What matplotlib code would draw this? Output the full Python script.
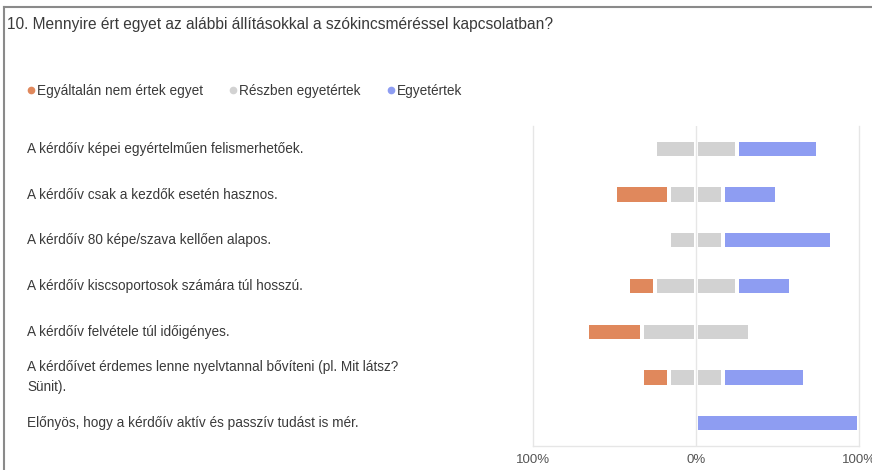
import matplotlib
matplotlib.use("Agg")
import matplotlib.pyplot as plt
import matplotlib.transforms as mtransforms
from matplotlib.lines import Line2D
import numpy as np

plt.rcParams['font.family'] = ['Liberation Sans', 'DejaVu Sans']

title = "10. Mennyire ért egyet az alábbi állításokkal a szókincsméréssel kapcsolatban?"
statements = [
    "A kérdőív képei egyértelműen felismerhetőek.",
    "A kérdőív csak a kezdők esetén hasznos.",
    "A kérdőív 80 képe/szava kellően alapos.",
    "A kérdőív kiscsoportosok számára túl hosszú.",
    "A kérdőív felvétele túl időigényes.",
    "A kérdőívet érdemes lenne nyelvtannal bővíteni (pl. Mit látsz?\nSünit).",
    "Előnyös, hogy a kérdőív aktív és passzív tudást is mér.",
]
series_names = ["Egyáltalán nem értek egyet", "Részben egyetértek", "Egyetértek"]
disagree = [0, 33.3, 0, 16.7, 33.3, 16.7, 0]
partly = [50, 33.3, 33.3, 50, 66.7, 33.3, 0]
agree = [50, 33.3, 66.7, 33.3, 0, 50, 100]
tick_vals = [-100, 0, 100]
tick_labels = ["100%", "0%", "100%"]

c_orange = "#E0885C"
c_grey = "#D2D2D2"
c_blue = "#8E9DF2"
text_col = "#3a3a3a"

W, H = 872, 470
fig = plt.figure(figsize=(W / 100, H / 100), dpi=100)
ax = fig.add_axes([533 / W, 24 / H, 326 / W, 320 / H])

gap = 1.3  # half-gap between segments, in percent units
bh = 0.31
y = np.arange(len(statements))
disagree = np.array(disagree)
partly = np.array(partly)
agree = np.array(agree)


def seg(start, width, color):
    m = width > 0
    ax.barh(y[m], (width - 2 * gap)[m], left=(start + gap)[m], height=bh,
            color=color, linewidth=0, zorder=3)


half = partly / 2
seg(-half - disagree, disagree, c_orange)
seg(-half, half, c_grey)
seg(np.zeros_like(half), half, c_grey)
seg(half, agree, c_blue)

ax.set_xlim(-100, 100)
ax.set_ylim(len(statements) - 0.5, -0.5)
ax.axvline(0, color="#e6e6e6", lw=1, zorder=1)
ax.spines["top"].set_visible(False)
for s in ["left", "right", "bottom"]:
    ax.spines[s].set_color("#e6e6e6")
    ax.spines[s].set_linewidth(1)
ax.set_yticks([])
ax.set_xticks(tick_vals)
ax.set_xticklabels(tick_labels)
ax.tick_params(axis="x", length=0, pad=6, labelsize=9.5, labelcolor="#555555")

trans = mtransforms.blended_transform_factory(fig.transFigure, ax.transData)
for yi, lab in zip(y, statements):
    ax.text(27 / W, yi, lab, transform=trans, ha="left", va="center",
            fontsize=9.8, color=text_col, linespacing=1.55, clip_on=False)

fig.text(7 / W, 1 - 25 / H, title, ha="left", va="center", fontsize=11.2, color=text_col)

handles = [Line2D([], [], marker="o", ls="", color=c, markersize=4.5)
           for c in (c_orange, c_grey, c_blue)]
fig.legend(handles, series_names, loc="center left", bbox_to_anchor=(27.6 / W, 1 - 91 / H),
           ncol=3, frameon=False, fontsize=9.8, handlelength=0.5, handletextpad=0.2,
           columnspacing=1.95, borderpad=0, borderaxespad=0, labelcolor=text_col)

# outer frame of the screenshot
fig.add_artist(Line2D([4 / W, 1], [1 - 7 / H, 1 - 7 / H], transform=fig.transFigure,
                      color="#8a8a8a", lw=1.5))
fig.add_artist(Line2D([4 / W, 4 / W], [0, 1 - 7 / H], transform=fig.transFigure,
                      color="#8a8a8a", lw=1.5))

fig.savefig("out.png", dpi=100)
